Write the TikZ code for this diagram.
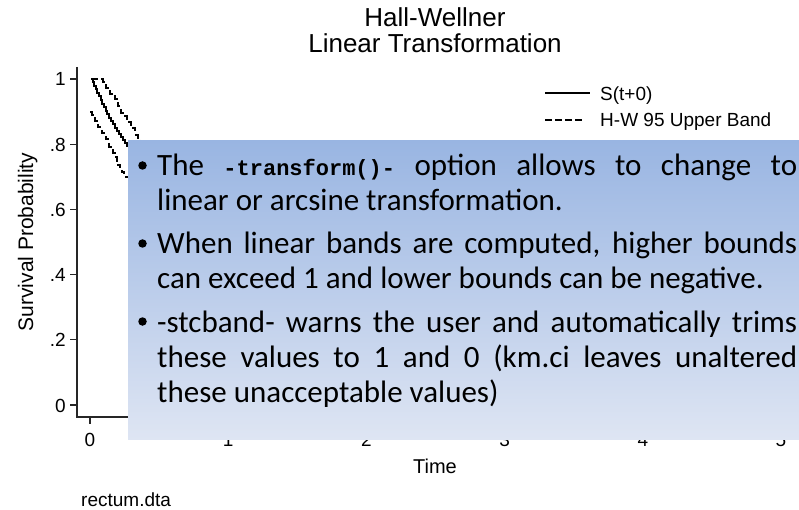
\documentclass[tikz,border=0pt]{standalone}
\usepackage{fontspec}
\setmainfont{Liberation Sans}
\newfontfamily\bodyfont{Carlito}
\newfontfamily\codefont{Liberation Mono}
\begin{document}
\begin{tikzpicture}[x=1pt,y=-1pt,
  axisline/.style={line width=1.1pt, black!85},
  ticklab/.style={font=\fontsize{19}{19}\selectfont, inner sep=0},
  axtitle/.style={font=\fontsize{20}{20}\selectfont, inner sep=0},
  curve/.style={line width=1.3pt, line join=miter},
  band/.style={curve, dash pattern=on 6.5pt off 3.5pt},
  para/.style={text width=640pt, align=justify, inner sep=0,
    font={\bodyfont\fontsize{31}{35}\selectfont},
    execute at begin node={\tolerance 10000\relax}},
  dotmark/.style={circle, fill=black, inner sep=0, minimum size=8.5pt}]
\useasboundingbox (0,0) rectangle (799,510);

% title
\node[font=\fontsize{26}{26}\selectfont, anchor=base, inner sep=0] (title1) at (435,27) {Hall-Wellner};
\node[font=\fontsize{26}{26}\selectfont, anchor=base, inner sep=0] (title2) at (435,53) {Linear Transformation};

% axes
\coordinate (origin) at (77,417);
\coordinate (ytop) at (77,67);
\coordinate (xend) at (793,417);
\draw[axisline] (ytop) -- (origin) -- (xend);

% y ticks and labels
\foreach \v/\lab [count=\i] in {0/0, 0.2/.2, 0.4/.4, 0.6/.6, 0.8/.8, 1/1} {
  \coordinate (yt\i) at (77,405-326*\v);
  \coordinate (ys\i) at (70,405-326*\v);
  \draw[axisline] (ys\i) -- (yt\i);
  \node[ticklab, anchor=base east] (ylab\i) at (66,412-326*\v) {\lab};
}
% x ticks and labels
\foreach \t [count=\i] in {0,...,5} {
  \coordinate (xt\i) at (90+138.2*\t,417);
  \coordinate (xs\i) at (90+138.2*\t,424);
  \draw[axisline] (xt\i) -- (xs\i);
  \node[ticklab, anchor=base] (xlab\i) at (90+138.2*\t,446.5) {\t};
}

% axis titles and note
\node[axtitle, anchor=base] (xtitle) at (435,473) {Time};
\node[axtitle, anchor=base, rotate=90, font=\fontsize{21}{21}\selectfont] (ytitle) at (33,242) {Survival Probability};
\node[ticklab, anchor=base west] (note) at (81,506) {rectum.dta};

% survival estimate
\draw[curve] (91,79) -| (93,82) -| (94,86) -| (96,89) -| (97,93) -| (99,96)
  -| (101,100) -| (102,104) -| (104,107) -| (106,111) -| (107,114) -| (109,118)
  -| (111,121) -| (113,124) -| (115,128) -| (117,131) -| (119,134) -| (121,137)
  -| (123,140) -| (125,143) -| (127,146) -| (130,149);
% upper band
\draw[band] (91,79) -| (103,82) -| (104,85) -| (106,88) -| (108,91) -| (110,94)
  -| (113,96) -| (115,99) -| (117,102) -| (118,106) -| (119,110) -| (121,113)
  -| (124,116) -| (127,119) -| (129,122) -| (131,125) -| (133,128) -| (135,132)
  -| (136,135) -| (138,138) -| (140,142);
% lower band
\draw[band] (90,112) -| (92,115) -| (93,118) -| (95,121) -| (97,124) -| (98,127)
  -| (100,130) -| (102,133) -| (104,136) -| (106,139) -| (108,143) -| (109,147)
  -| (111,150) -| (113,153) -| (115,157) -| (117,161) -| (118,165) -| (120,169)
  -| (122,172) -| (124,175) -| (126,177) -| (130,179);

% legend
\coordinate (lega) at (545,93);
\coordinate (legb) at (590,93);
\coordinate (legc) at (545,120);
\coordinate (legd) at (584,120);
\draw[curve] (lega) -- (legb);
\draw[band] (legc) -- (legd);
\node[ticklab, anchor=base west] (leg1) at (600,100.5) {S(t+0)};
\node[ticklab, anchor=base west] (leg2) at (600,127) {H-W 95 Upper Band};

% text panel
\node[anchor=north west, inner sep=0, minimum width=671pt, minimum height=299pt,
  top color={rgb,255:red,153;green,181;blue,226},
  bottom color={rgb,255:red,222;green,229;blue,243}] (panel) at (128,140) {};

\node[dotmark] (b1) at (142.5,165.5) {};
\node[dotmark] (b2) at (142.5,243.5) {};
\node[dotmark] (b3) at (142.5,321.5) {};

\node[para, anchor=base west] (p1) at (157,176)
  {The {\codefont\bfseries\fontsize{22}{22}\selectfont -transform()-} option allows to change to\linebreak linear or arcsine transformation.};
\node[para, anchor=base west] (p2) at (157,254)
  {When linear bands are computed, higher bounds\linebreak can exceed 1 and lower bounds can be negative.};
\node[para, anchor=base west] (p3) at (157,332)
  {-stcband- warns the user and automatically trims\linebreak these values to 1 and 0 (km.ci leaves unaltered\linebreak these unacceptable values)};
\end{tikzpicture}
\end{document}
